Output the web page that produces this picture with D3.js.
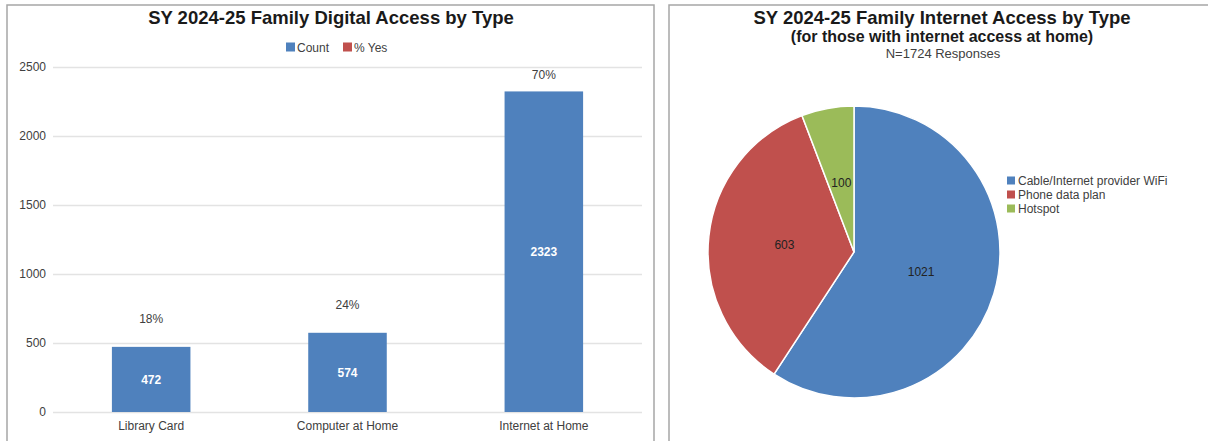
<!DOCTYPE html>
<html>
<head>
<meta charset="utf-8">
<script src="https://cdn.jsdelivr.net/npm/d3@7"></script>
<style>
  body { margin: 0; background: #fff; }
  text { font-family: "Liberation Sans", Arial, sans-serif; }
</style>
</head>
<body>
<svg width="1208" height="441"></svg>
<script>
// bar chart data
var categories = ["Library Card", "Computer at Home", "Internet at Home"];
var counts = [472, 574, 2323];
var pctYes = [18, 24, 70];
var yTicks = [0, 500, 1000, 1500, 2000, 2500];
var barLegend = ["Count", "% Yes"];

// pie chart data
var pieLabels = ["Cable/Internet provider WiFi", "Phone data plan", "Hotspot"];
var pieValues = [1021, 603, 100];

var blue = "#4f81bd", red = "#c0504d", green = "#9bbb59";

var svg = d3.select("svg");

// panel frames
svg.append("rect")
    .attr("x", 7).attr("y", 5)
    .attr("width", 647).attr("height", 450)
    .attr("fill", "none").attr("stroke", "#a6a6a6").attr("stroke-width", 1.5);
svg.append("rect")
    .attr("x", 669).attr("y", 5)
    .attr("width", 560).attr("height", 450)
    .attr("fill", "none").attr("stroke", "#a6a6a6").attr("stroke-width", 1.5);

// ---------- left: bar chart ----------
var left = svg.append("g");

left.append("text")
    .attr("x", 331).attr("y", 24)
    .attr("text-anchor", "middle")
    .style("font-size", "18.5px").style("font-weight", "bold")
    .attr("fill", "#1a1a1a")
    .text("SY 2024-25 Family Digital Access by Type");

var legendX = [286, 343];
var legendColors = [blue, red];
barLegend.forEach(function (d, i) {
    left.append("rect")
        .attr("x", legendX[i]).attr("y", 42.5)
        .attr("width", 9).attr("height", 9)
        .attr("fill", legendColors[i]);
    left.append("text")
        .attr("x", legendX[i] + 11).attr("y", 51.5)
        .style("font-size", "12px")
        .attr("fill", "#404040")
        .text(d);
});

var x = d3.scaleBand()
    .domain(categories)
    .range([53, 642])
    .paddingInner(0.6)
    .paddingOuter(0.3);

var y = d3.scaleLinear()
    .domain([0, 2500])
    .range([412, 67]);

var yAxis = left.append("g")
    .attr("transform", "translate(53,0)")
    .call(d3.axisLeft(y).tickValues(yTicks).tickFormat(d3.format("d"))
        .tickSize(-589).tickPadding(7));
yAxis.select(".domain").remove();
yAxis.selectAll(".tick line").attr("stroke", "#e3e3e3").attr("stroke-width", 1.5);
yAxis.selectAll(".tick text")
    .style("font-size", "12px")
    .style("font-family", "'Liberation Sans', Arial, sans-serif")
    .attr("fill", "#404040");

var xAxis = left.append("g")
    .attr("transform", "translate(0,412)")
    .call(d3.axisBottom(x).tickSize(0).tickPadding(9));
xAxis.select(".domain").remove();
xAxis.selectAll(".tick text")
    .style("font-size", "12px")
    .style("font-family", "'Liberation Sans', Arial, sans-serif")
    .attr("fill", "#404040");

left.selectAll(".bar")
    .data(counts)
    .enter().append("rect")
    .attr("class", "bar")
    .attr("x", function (d, i) { return x(categories[i]); })
    .attr("y", function (d) { return y(d); })
    .attr("width", x.bandwidth())
    .attr("height", function (d) { return y(0) - y(d); })
    .attr("fill", blue);

left.selectAll(".count-label")
    .data(counts)
    .enter().append("text")
    .attr("class", "count-label")
    .attr("x", function (d, i) { return x(categories[i]) + x.bandwidth() / 2; })
    .attr("y", function (d) { return (y(d) + y(0)) / 2 + 4.5; })
    .attr("text-anchor", "middle")
    .style("font-size", "12px").style("font-weight", "bold")
    .attr("fill", "#fff")
    .text(function (d) { return d; });

left.selectAll(".pct-label")
    .data(pctYes)
    .enter().append("text")
    .attr("class", "pct-label")
    .attr("x", function (d, i) { return x(categories[i]) + x.bandwidth() / 2; })
    .attr("y", function (d, i) { return Math.max(y(counts[i]) - 24, y(2500) + 12); })
    .attr("text-anchor", "middle")
    .style("font-size", "12px")
    .attr("fill", "#404040")
    .text(function (d) { return d + "%"; });

// ---------- right: pie chart ----------
var right = svg.append("g");

right.append("text")
    .attr("x", 942).attr("y", 24)
    .attr("text-anchor", "middle")
    .style("font-size", "18.5px").style("font-weight", "bold")
    .attr("fill", "#1a1a1a")
    .text("SY 2024-25 Family Internet Access by Type");
right.append("text")
    .attr("x", 942).attr("y", 42)
    .attr("text-anchor", "middle")
    .style("font-size", "16px").style("font-weight", "bold")
    .attr("fill", "#1a1a1a")
    .text("(for those with internet access at home)");
right.append("text")
    .attr("x", 943).attr("y", 58)
    .attr("text-anchor", "middle")
    .style("font-size", "13px")
    .attr("fill", "#404040")
    .text("N=" + d3.sum(pieValues) + " Responses");

var pieColors = [blue, red, green];
var radius = 146;
var pie = d3.pie().sort(null);
var arc = d3.arc().innerRadius(0).outerRadius(radius);
var labelArc = d3.arc().innerRadius(70).outerRadius(70);

var pieG = right.append("g").attr("transform", "translate(854,252)");
var arcs = pie(pieValues);

pieG.selectAll("path")
    .data(arcs)
    .enter().append("path")
    .attr("d", arc)
    .attr("fill", function (d, i) { return pieColors[i]; })
    .attr("stroke", "#fff")
    .attr("stroke-width", 1.5);

pieG.selectAll(".slice-label")
    .data(arcs)
    .enter().append("text")
    .attr("class", "slice-label")
    .attr("transform", function (d) { return "translate(" + labelArc.centroid(d) + ")"; })
    .attr("dy", "0.35em")
    .attr("text-anchor", "middle")
    .style("font-size", "12px")
    .attr("fill", "#222")
    .text(function (d) { return d.data; });

pieLabels.forEach(function (d, i) {
    right.append("rect")
        .attr("x", 1007).attr("y", 176.5 + i * 14)
        .attr("width", 8).attr("height", 8)
        .attr("fill", pieColors[i]);
    right.append("text")
        .attr("x", 1018).attr("y", 185 + i * 14)
        .style("font-size", "12px")
        .attr("fill", "#404040")
        .text(d);
});
</script>
</body>
</html>
